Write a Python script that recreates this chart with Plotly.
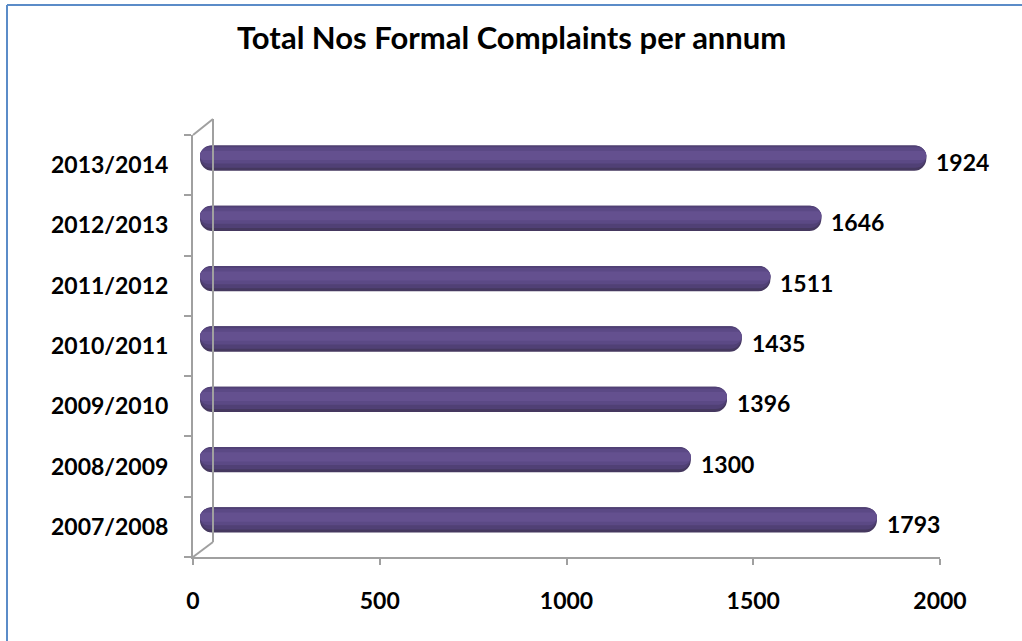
import plotly.graph_objects as go

# ---- data ----
years = ["2007/2008", "2008/2009", "2009/2010", "2010/2011", "2011/2012", "2012/2013", "2013/2014"]
complaints = [1793, 1300, 1396, 1435, 1511, 1646, 1924]
x_ticks = [0, 500, 1000, 1500, 2000]
title_text = "Total Nos Formal Complaints per annum"

W, H = 1022, 641
def px(x):
    return x / W
def py(y):
    return 1 - y / H

FONT = "Lato"
fig = go.Figure()

zeros = [0 for _ in complaints]

# cylinder-like shading via overlaid bars (width, offset, colour)
layers = [
    (0.42, -0.21, "#45385F"),
    (0.37, -0.16, "#504075"),
    (0.27, -0.09, "#5B4985"),
    (0.15, -0.03, "#64508F"),
]
for w, off, col in layers:
    fig.add_trace(go.Bar(
        x=complaints, base=zeros, y=years, orientation="h",
        width=w, offset=off,
        marker=dict(color=col, line=dict(width=0), cornerradius="50%"),
        xaxis="x", yaxis="y", hoverinfo="skip", showlegend=False,
    ))

# data labels
for yr, v in zip(years, complaints):
    fig.add_annotation(x=v, y=yr, xref="x", yref="y", text=f"<b>{v}</b>",
                       showarrow=False, xanchor="left", yanchor="middle",
                       xshift=8, yshift=-4,
                       font=dict(family=FONT, size=23, color="black"))

# invisible trace to activate front axes
fig.add_trace(go.Scatter(x=[0], y=[years[0]], xaxis="x2", yaxis="y2",
                         mode="markers", marker=dict(opacity=0),
                         hoverinfo="skip", showlegend=False))

axis_col = "#A0A0A0"
fig.update_layout(
    template="none",
    width=W, height=H,
    margin=dict(l=0, r=0, t=0, b=0, pad=0),
    paper_bgcolor="white", plot_bgcolor="rgba(0,0,0,0)",
    barmode="overlay",
    showlegend=False,
    xaxis=dict(domain=[px(200), px(955)], range=[0, 2000], visible=False,
               automargin=False, anchor="y"),
    yaxis=dict(domain=[py(550), py(128)], type="category", categoryorder="array",
               categoryarray=years, range=[-0.5, 6.5], visible=False,
               automargin=False, anchor="x"),
    xaxis2=dict(domain=[px(193), px(940)], range=[0, 2000], anchor="y2",
                tickvals=x_ticks, ticktext=[f"<b>{t}</b>" for t in x_ticks],
                showline=True, linecolor=axis_col, linewidth=2,
                ticks="outside", ticklen=6, tickcolor=axis_col, tickwidth=2,
                showgrid=False, zeroline=False, ticklabelstandoff=16,
                automargin=False,
                tickfont=dict(family=FONT, size=23, color="black")),
    yaxis2=dict(domain=[py(557), py(135)], type="category", categoryorder="array",
                categoryarray=years, range=[-0.5, 6.5], anchor="x2",
                tickvals=years, ticktext=[f"<b>{y}</b>" for y in years],
                tickson="boundaries",
                showline=True, linecolor=axis_col, linewidth=2,
                ticks="outside", ticklen=7, tickcolor=axis_col, tickwidth=2,
                showgrid=False, zeroline=False, ticklabelstandoff=18,
                automargin=False,
                tickfont=dict(family=FONT, size=23, color="black")),
)

# title
fig.add_annotation(x=px(511), y=py(37), xref="paper", yref="paper",
                   text=f"<b>{title_text}</b>", showarrow=False,
                   xanchor="center", yanchor="middle",
                   font=dict(family=FONT, size=31, color="black"))

# 3D back wall lines
wall = dict(color=axis_col, width=2)
fig.add_shape(type="line", xref="paper", yref="paper", x0=px(213), y0=py(119), x1=px(213), y1=py(542), line=wall)
fig.add_shape(type="line", xref="paper", yref="paper", x0=px(193), y0=py(135), x1=px(213), y1=py(119), line=wall)
fig.add_shape(type="line", xref="paper", yref="paper", x0=px(193), y0=py(557), x1=px(213), y1=py(542), line=wall)

# chart border (only the left and top edges are in the picture)
border = dict(color="#5B8CC8", width=2)
fig.add_shape(type="line", xref="paper", yref="paper", x0=px(7), y0=py(5), x1=px(1022), y1=py(5), line=border)
fig.add_shape(type="line", xref="paper", yref="paper", x0=px(7), y0=py(5), x1=px(7), y1=py(641), line=border)

fig.write_html("out.html")
